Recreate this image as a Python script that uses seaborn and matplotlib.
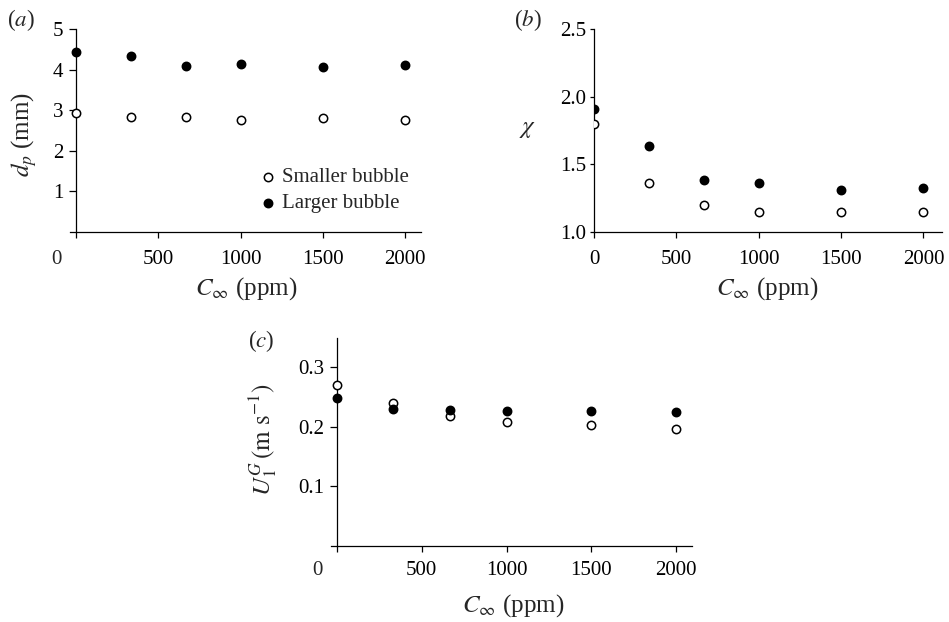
import numpy as np
import pandas as pd
import matplotlib
matplotlib.use("Agg")
import matplotlib.pyplot as plt
import seaborn as sns

# ---- data ----
conc = [0, 333, 667, 1000, 1500, 2000]
dp_small = [2.92, 2.84, 2.84, 2.75, 2.80, 2.75]
dp_large = [4.43, 4.33, 4.10, 4.15, 4.07, 4.12]
chi_small = [1.80, 1.36, 1.20, 1.15, 1.15, 1.15]
chi_large = [1.91, 1.634, 1.386, 1.361, 1.314, 1.322]
u_small = [0.270, 0.239, 0.218, 0.208, 0.202, 0.196]
u_large = [0.248, 0.229, 0.228, 0.226, 0.226, 0.224]
xticks = [0, 500, 1000, 1500, 2000]
labels = ["Smaller bubble", "Larger bubble"]

sns.set_theme(style="ticks")
plt.rcParams["font.family"] = ["Liberation Serif", "DejaVu Serif"]
plt.rcParams["mathtext.fontset"] = "stix"
plt.rcParams["axes.linewidth"] = 0.9
plt.rcParams["xtick.major.width"] = 0.9
plt.rcParams["ytick.major.width"] = 0.9
plt.rcParams["xtick.major.size"] = 4.5
plt.rcParams["ytick.major.size"] = 5
plt.rcParams["xtick.color"] = "black"
plt.rcParams["ytick.color"] = "black"
plt.rcParams["axes.edgecolor"] = "black"

W, H = 949, 622
fig = plt.figure(figsize=(W / 100, H / 100), dpi=100)
fig.patch.set_facecolor("white")

def add_ax(l, r, t, b):
    return fig.add_axes([l / W, 1 - b / H, (r - l) / W, (b - t) / H])

TICK_FS = 15
S = 36
XPAD = 8.5

def draw(ax, ys, yl):
    sns.scatterplot(x=conc, y=ys, ax=ax, marker="o", s=S, facecolor="white",
                    edgecolor="black", linewidth=1.1, label=labels[0], zorder=3)
    sns.scatterplot(x=conc, y=yl, ax=ax, marker="o", s=S, color="black",
                    edgecolor="black", linewidth=1.1, label=labels[1], zorder=3)
    for sp in ["top", "right"]:
        ax.spines[sp].set_visible(False)
    ax.set_xlabel("")
    ax.set_ylabel("")
    ax.set_facecolor("white")

def zero_label(ax):
    ax.annotate("0", xy=(0, 0), xycoords=("data", "axes fraction"),
                xytext=(-20 * 0.72, -(4.5 + XPAD)), textcoords="offset points",
                ha="center", va="top", fontsize=TICK_FS)

# (a)
axa = add_ax(70, 421, 29, 232)
draw(axa, dp_small, dp_large)
axa.set_xlim(-36.5, 2097)
axa.set_ylim(0, 5)
axa.spines["left"].set_position(("data", 0))
axa.set_xticks(xticks)
axa.set_xticklabels([""] + [str(v) for v in xticks[1:]])
axa.set_yticks([1, 2, 3, 4, 5])
axa.tick_params(axis="both", labelsize=TICK_FS)
axa.tick_params(axis="y", pad=4)
axa.tick_params(axis="x", pad=XPAD)
zero_label(axa)
axa.legend(loc="center left", bbox_to_anchor=(0.547, 0.204), frameon=False,
           fontsize=15, borderpad=0, handlelength=0.6, handletextpad=0.35,
           labelspacing=0.3, borderaxespad=0)

# (b)
axb = add_ax(594, 942, 29, 232)
draw(axb, chi_small, chi_large)
axb.set_xlim(0, 2113)
axb.set_ylim(1.0, 2.5)
axb.set_xticks(xticks)
axb.set_yticks([1.0, 1.5, 2.0, 2.5])
axb.set_yticklabels(["1.0", "1.5", "2.0", "2.5"])
axb.tick_params(axis="both", labelsize=TICK_FS)
axb.tick_params(axis="y", pad=2.5, length=3)
axb.tick_params(axis="x", pad=XPAD)
axb.get_legend().remove()

# (c)
axc = add_ax(331, 692, 338, 546)
draw(axc, u_small, u_large)
axc.set_xlim(-35.4, 2094)
axc.set_ylim(0, 0.3486)
axc.spines["left"].set_position(("data", 0))
axc.set_xticks(xticks)
axc.set_xticklabels([""] + [str(v) for v in xticks[1:]])
axc.set_yticks([0.1, 0.2, 0.3])
axc.tick_params(axis="both", labelsize=TICK_FS)
axc.tick_params(axis="y", pad=4)
axc.tick_params(axis="x", pad=XPAD - 2)
axc.annotate("0", xy=(0, 0), xycoords=("data", "axes fraction"),
             xytext=(-20 * 0.72, -(4.5 + XPAD - 2)), textcoords="offset points",
             ha="center", va="top", fontsize=TICK_FS)
axc.get_legend().remove()

def ftext(x, y, s, **kw):
    fig.text(x / W, 1 - y / H, s, **kw)

XL_FS = 18
ftext(246, 295, r"$C_\infty$ (ppm)", ha="center", va="baseline", fontsize=XL_FS)
ftext(767, 295, r"$C_\infty$ (ppm)", ha="center", va="baseline", fontsize=XL_FS)
ftext(513, 612, r"$C_\infty$ (ppm)", ha="center", va="baseline", fontsize=XL_FS)

ftext(24, 134, r"$d_p$ (mm)", ha="center", va="center", rotation=90, fontsize=XL_FS)
ftext(528, 129, r"$\chi$", ha="center", va="center", fontsize=XL_FS)
ftext(263, 440, r"$U_1^G\,(\mathrm{m\ s^{-1}})$", ha="center", va="center",
      rotation=90, fontsize=XL_FS)

PL_FS = 16.5
ftext(21, 20, r"($\it{a}$)", ha="center", va="center", fontsize=PL_FS)
ftext(528, 20, r"($\it{b}$)", ha="center", va="center", fontsize=PL_FS)
ftext(261, 341, r"($\it{c}$)", ha="center", va="center", fontsize=PL_FS)

fig.savefig("out.png", dpi=100, facecolor="white")
